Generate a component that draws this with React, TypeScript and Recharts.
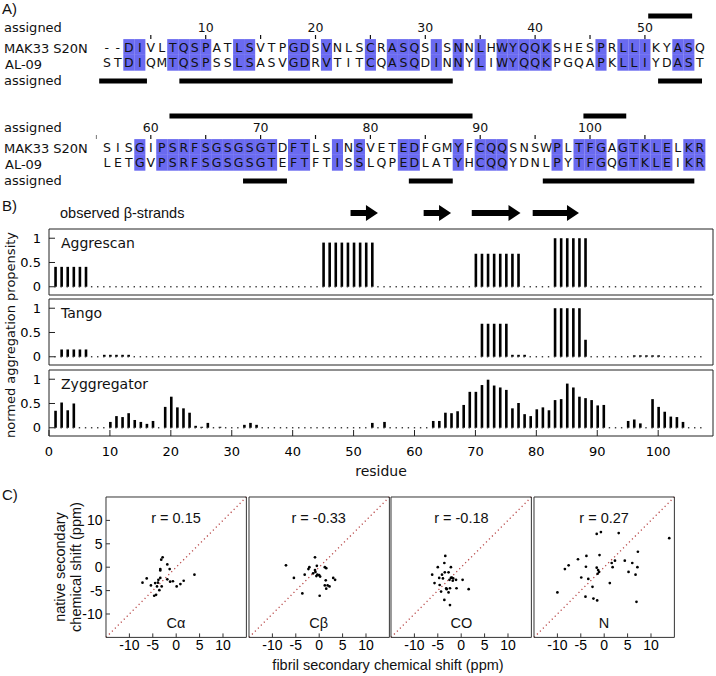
import React from "react";
import {
  ComposedChart,
  ScatterChart,
  Scatter,
  Bar,
  XAxis,
  YAxis,
  ReferenceLine,
  ReferenceArea,
} from "recharts";

const DV = "DejaVu Sans";
const LIB = "Liberation Sans, Arial, sans-serif";

// ---------- A) sequence alignment ----------
const mak33Seq =
  "--DIVLTQSPATLSVTPGDSVNLSCRASQSISNNLHWYQQKSHESPRLLIKYASQ" +
  "SISGIPSRFSGSGSGTDFTLSINSVETEDFGMYFCQQSNSWPLTFGAGTKLELKR";
const al09Seq =
  "STDIQMTQSPSSLSASVGDRVTITCQASQDINNYLIWYQQKPGQAPKLLIYDAST" +
  "LETGVPSRFSGSGSGTEFTFTISSLQPEDLATYHCQQYDNLPYTFGQGTKLEIKR";
const blockStarts = [1, 56];
const seqTicks = [5, 10, 15, 20, 25, 30, 35, 40, 45, 50, 55, 60, 65, 70, 75, 80, 85, 90, 95, 100, 105];
const seqLabels = [10, 20, 30, 40, 50, 60, 70, 80, 90, 100];
// assigned stretches (residue numbers)
const assignedMak33 = [[50.3, 54.3], [61.7, 89.3], [99.4, 103.3]];
const assignedAl09 = [[0.3, 4.65], [7.6, 32.5], [51.2, 55.2], [68.4, 72.4], [83.5, 87.5], [95.7, 109.5]];

// ---------- B) aggregation propensity, residues 1..107 ----------
const aggrescan = [
  0.41, 0.41, 0.41, 0.41, 0.41, 0.41, 0, 0, 0, 0,
  0, 0, 0, 0, 0, 0, 0, 0, 0, 0,
  0, 0, 0, 0, 0, 0, 0, 0, 0, 0,
  0, 0, 0, 0, 0, 0, 0, 0, 0, 0,
  0, 0, 0, 0, 0.91, 0.91, 0.91, 0.91, 0.91, 0.91,
  0.91, 0.91, 0.91, 0, 0, 0, 0, 0, 0, 0,
  0, 0, 0, 0, 0, 0, 0, 0, 0, 0.68,
  0.68, 0.68, 0.68, 0.68, 0.68, 0.68, 0.68, 0, 0, 0,
  0, 0, 1, 1, 1, 1, 1, 1, 0, 0,
  0, 0, 0, 0, 0, 0, 0, 0, 0, 0,
  0, 0, 0, 0, 0, 0, 0,
];
const tango = [
  0, 0.15, 0.15, 0.15, 0.15, 0.15, 0, 0, 0.04, 0.04,
  0.04, 0.04, 0.04, 0, 0, 0, 0, 0, 0, 0,
  0, 0, 0, 0, 0, 0, 0, 0, 0, 0,
  0, 0, 0, 0, 0, 0, 0, 0, 0, 0,
  0, 0, 0, 0, 0, 0, 0, 0, 0, 0,
  0, 0, 0, 0, 0, 0, 0, 0, 0, 0,
  0, 0, 0, 0, 0, 0, 0, 0, 0, 0,
  0.68, 0.68, 0.68, 0.68, 0.68, 0.04, 0.04, 0.04, 0, 0,
  0, 0, 1, 1, 1, 1, 1, 0.35, 0, 0,
  0, 0, 0, 0, 0, 0.03, 0.03, 0.03, 0.03, 0.03,
  0, 0, 0, 0, 0, 0, 0,
];
const zyggregator = [
  0.35, 0.52, 0.36, 0.5, 0, 0, 0, 0, 0, 0.12,
  0.24, 0.22, 0.3, 0.16, 0.12, 0.08, 0.14, 0, 0.43, 0.64,
  0.42, 0.4, 0.31, 0.04, 0.02, 0.1, 0, 0.02, 0, 0,
  0, 0.06, 0.1, 0.06, 0, 0, 0, 0, 0, 0,
  0, 0, 0, 0, 0, 0, 0, 0, 0, 0,
  0, 0, 0.1, 0, 0.12, 0, 0, 0, 0, 0,
  0, 0, 0.14, 0.14, 0.31, 0.3, 0.34, 0.47, 0.74, 0.74,
  0.88, 0.99, 0.87, 0.83, 0.78, 0.4, 0.51, 0.28, 0.24, 0.38,
  0.42, 0.36, 0.57, 0.59, 0.91, 0.83, 0.64, 0.61, 0.57, 0.46,
  0.47, 0, 0, 0, 0.14, 0.17, 0.09, 0, 0.59, 0.43,
  0.33, 0.23, 0.22, 0.12, 0, 0, 0,
];
const residues = aggrescan.map((_, i) => i + 1);
const residueTicks = [0, 10, 20, 30, 40, 50, 60, 70, 80, 90, 100];
const propTicks = [0, 0.5, 1];
const strands = [[49.5, 54], [61.5, 66], [69.4, 77.4], [79.4, 87]];

// ---------- C) secondary chemical shifts (fibril x, native y) ----------
const caPts = [[-7.2, -3.3], [-6.3, -2.4], [-5.4, -3.9], [-4.7, -6.1], [-4.3, -5.9], [-4.5, -3.4], [-4.1, -4.1], [-3.8, -2.7], [-3.9, -3.3], [-3.6, -4.9], [-3.4, -0.4], [-3.4, -0.7], [-3.2, 1.6], [-2.9, 2.1], [-3.1, -4.1], [-3.4, -2.3], [-1.9, 0.6], [-1.4, -0.4], [-1.9, -2.6], [-1.3, -3.1], [-0.7, -3.0], [0.1, -4.1], [0.9, -3.6], [1.6, -2.9], [3.9, -1.6]];
const cbPts = [[-7.1, 0.4], [-5.4, -2.3], [-3.6, -5.6], [-3.1, -1.6], [-2.3, -0.4], [-2.1, 0], [-1.3, -1.3], [-0.9, 2.1], [-0.9, -0.6], [-0.8, -1.0], [-0.5, 0.3], [-0.4, -1.6], [0, -1.7], [0.1, -6.1], [0.2, -2.0], [1.2, 0], [1.5, -0.2], [1.4, -2.8], [1.2, -3.9], [1.5, -4.6], [1.8, -3.9], [2.2, -4.1], [3.0, -2.3], [3.4, -2.7], [-0.6, -1.9]];
const coPts = [[-6.2, -1.6], [-5.7, -3.4], [-5.0, 0], [-4.7, -2.3], [-4.6, -3.8], [-4.3, -5.2], [-4.1, -1.6], [-3.9, -2.4], [-3.6, 0.9], [-3.5, -1.1], [-3.4, 2.4], [-3.6, -7.0], [-3.2, -4.5], [-3.1, -4.7], [-2.7, -1.1], [-2.5, -2.7], [-2.4, -4.5], [-2.7, -5.4], [-2.4, -8.1], [-2.2, 0], [-2.2, -2.3], [-2.0, -2.2], [-1.8, -2.9], [-1.7, -2.4], [-1.1, -2.7], [-1.0, -4.5], [0.3, -2.7], [1.6, -4.7]];
const nPts = [[-10.0, -5.4], [-8.4, -0.4], [-7.6, 0.4], [-5.6, 1.7], [-4.9, -2.2], [-4.0, -6.3], [-3.9, 0.1], [-3.8, 2.4], [-3.4, -2.5], [-2.5, -4.2], [-2.3, -6.7], [-1.6, 7.1], [-1.6, -0.1], [-1.5, -7.1], [-1.4, -1.4], [-1.3, -0.6], [-1.1, -1.0], [-1.0, 2.6], [-0.7, 7.5], [1.2, -3.4], [1.6, 0.9], [1.8, 0.0], [2.3, 1.4], [3.1, 7.3], [4.4, 1.4], [5.2, -1.0], [6.0, 0.9], [6.7, -1.6], [6.9, -7.4], [7.1, 0.0], [7.2, 3.3], [13.9, 6.2]];
const shiftSets = [caPts, cbPts, coPts, nPts];
const nuclei = ["Cα", "Cβ", "CO", "N"];
const rValues = ["r = 0.15", "r = -0.33", "r = -0.18", "r = 0.27"];
const shiftTicks = [-10, -5, 0, 5, 10];

// ---------- layout ----------
const LANE = { upper: 16, num: 27, tick: 37, mak: 47, al: 62.8, lower: 81 };
const B_LEFT = 49;
const B_RIGHT = 713;
const B_H = 66;
const bPanels = [
  { name: "Aggrescan", values: aggrescan, top: 229 },
  { name: "Tango", values: tango, top: 299 },
  { name: "Zyggregator", values: zyggregator, top: 370 },
];
const C_TOP = 496.7;
const C_SIZE = 140.4;
const C_LEFT = 105.8;
const C_STEP = 142.7;
const C_YAXIS = 30;

const ResidueCell = (p: any) => {
  const { cx, cy, payload } = p;
  return (
    <g>
      {payload.same && (
        <rect x={cx - 5.55} y={cy - 7.9} width={11.1} height={15.8} fill="#6a6af0" />
      )}
      <text x={cx} y={cy} textAnchor="middle" dominantBaseline="central" fontSize={12.5} fontFamily={DV} fill="#111">
        {payload.ch}
      </text>
    </g>
  );
};

const TickMark = (p: any) => (
  <line x1={p.cx} x2={p.cx} y1={p.cy - 2} y2={p.cy + 2} stroke="#111" strokeWidth={1.2} />
);

const TickNum = (p: any) => (
  <text x={p.cx} y={p.cy} textAnchor="middle" dominantBaseline="central" fontSize={12.5} fontFamily={DV} fill="#111">
    {p.payload.i}
  </text>
);

function AlignmentBlock({ start }: { start: number }) {
  const idx = Array.from({ length: 55 }, (_, k) => start + k);
  const row = (seq: string, lane: number) =>
    idx.map((i) => ({
      i,
      y: lane,
      ch: seq[i - 1],
      same: seq[i - 1] !== "-" && mak33Seq[i - 1] === al09Seq[i - 1],
    }));
  const inBlock = (v: number) => v >= start - 1 && v < start + 54;
  const ticks = seqTicks.filter(inBlock).map((i) => ({ i, y: LANE.tick }));
  const nums = seqLabels.filter(inBlock).map((i) => ({ i, y: LANE.num }));
  const top = assignedMak33.filter(([a]) => inBlock(a));
  const bottom = assignedAl09.filter(([a]) => inBlock(a));
  return (
    <ScatterChart width={716} height={100} margin={{ top: 0, right: 5.2, bottom: 0, left: 95.9 }}>
      <XAxis type="number" dataKey="i" domain={[start - 1, start + 55]} hide allowDataOverflow />
      <YAxis type="number" dataKey="y" domain={[0, 100]} reversed hide allowDataOverflow />
      <Scatter data={row(mak33Seq, LANE.mak)} shape={<ResidueCell />} isAnimationActive={false} />
      <Scatter data={row(al09Seq, LANE.al)} shape={<ResidueCell />} isAnimationActive={false} />
      <Scatter data={ticks} shape={<TickMark />} isAnimationActive={false} />
      <Scatter data={nums} shape={<TickNum />} isAnimationActive={false} />
      {top.map(([a, b], k) => (
        <ReferenceLine key={"u" + k} segment={[{ x: a, y: LANE.upper }, { x: b, y: LANE.upper }]} stroke="#000" strokeWidth={5} />
      ))}
      {bottom.map(([a, b], k) => (
        <ReferenceLine key={"l" + k} segment={[{ x: a, y: LANE.lower }, { x: b, y: LANE.lower }]} stroke="#000" strokeWidth={5} />
      ))}
    </ScatterChart>
  );
}

const Stick = (p: any) => {
  const { x, y, width, height } = p;
  if (!height || Math.abs(height) < 0.8) return null;
  const cx = x + width / 2;
  return <rect x={cx - 1.3} y={y} width={2.6} height={height} fill="#000" />;
};

const BaseDot = (p: any) => (
  <rect x={p.cx - 0.7} y={p.cy - 0.7} width={1.4} height={1.4} fill="#333" />
);

const Arrow = (p: any) => {
  const { x, y, width, height } = p;
  const cy = y + height / 2;
  const hh = height / 2;
  const sh = 3;
  const xe = x + width;
  const xh = xe - 12;
  return (
    <polygon
      points={`${x},${cy - sh} ${xh},${cy - sh} ${xh},${cy - hh} ${xe},${cy} ${xh},${cy + hh} ${xh},${cy + sh} ${x},${cy + sh}`}
      fill="#000"
    />
  );
};

const Nothing = () => null;

function StrandArrows() {
  const data = strands.map(([a, b]) => ({ a, b, mid: 0.5 }));
  return (
    <ComposedChart width={716} height={30} data={data} margin={{ top: 0, right: 716 - B_RIGHT, bottom: 0, left: B_LEFT }}>
      <XAxis type="number" dataKey="a" domain={[0, 109]} hide allowDataOverflow />
      <YAxis type="number" domain={[0, 1]} hide allowDataOverflow />
      <Scatter dataKey="mid" shape={<Nothing />} isAnimationActive={false} />
      {strands.map(([a, b], k) => (
        <ReferenceArea key={k} x1={a} x2={b} y1={0.23} y2={0.77} shape={<Arrow />} />
      ))}
    </ComposedChart>
  );
}

function PropensityPanel({ values, showTicks }: { values: number[]; showTicks: boolean }) {
  const data = residues.map((res, i) => ({ res, v: values[i], base: 0 }));
  const hb = showTicks ? 30 : 1;
  const tickStyle = { fill: "#000", fontSize: 13, fontFamily: DV };
  return (
    <ComposedChart
      width={716}
      height={1 + B_H + hb}
      data={data}
      margin={{ top: 0, right: 716 - B_RIGHT - 1, bottom: 0, left: 0 }}
    >
      <XAxis
        dataKey="res"
        type="number"
        domain={[0, 109]}
        ticks={residueTicks}
        interval={0}
        tickSize={-6}
        tickMargin={17}
        height={hb}
        stroke="#222"
        tick={showTicks ? tickStyle : false}
        allowDataOverflow
      />
      <XAxis
        xAxisId="t"
        orientation="top"
        dataKey="res"
        type="number"
        domain={[0, 109]}
        ticks={residueTicks}
        interval={0}
        tickSize={-6}
        height={1}
        stroke="#222"
        tick={false}
        allowDataOverflow
      />
      <YAxis
        type="number"
        domain={[-0.17, 1.19]}
        ticks={propTicks}
        interval={0}
        tickSize={-6}
        tickMargin={14}
        width={B_LEFT}
        stroke="#222"
        tick={tickStyle}
        allowDataOverflow
      />
      <YAxis
        yAxisId="r"
        orientation="right"
        type="number"
        domain={[-0.17, 1.19]}
        ticks={propTicks}
        interval={0}
        tickSize={-6}
        width={1}
        stroke="#222"
        tick={false}
        allowDataOverflow
      />
      <Scatter dataKey="base" shape={<BaseDot />} isAnimationActive={false} />
      <Bar dataKey="v" barSize={3} shape={<Stick />} isAnimationActive={false} />
    </ComposedChart>
  );
}

const PointDot = (p: any) => <circle cx={p.cx} cy={p.cy} r={1.35} fill="#000" />;

function ShiftPanel({ pts, showY }: { pts: number[][]; showY: boolean }) {
  const data = pts.map(([x, y]) => ({ x, y }));
  const tickStyle = { fill: "#000", fontSize: 14, fontFamily: LIB };
  return (
    <ScatterChart
      width={C_YAXIS + C_SIZE + 1}
      height={1 + C_SIZE + 26}
      margin={{ top: 0, right: 0, bottom: 0, left: 0 }}
    >
      <XAxis type="number" dataKey="x" domain={[-15, 15]} ticks={shiftTicks} interval={0} tickSize={-4} tickMargin={6.5} height={26} stroke="#333" tick={tickStyle} allowDataOverflow />
      <XAxis xAxisId="t" orientation="top" type="number" dataKey="x" domain={[-15, 15]} ticks={shiftTicks} interval={0} tickSize={-4} height={1} stroke="#333" tick={false} allowDataOverflow />
      <YAxis type="number" dataKey="y" domain={[-15, 15]} ticks={shiftTicks} interval={0} tickSize={-4} tickMargin={7.5} width={C_YAXIS} stroke="#333" tick={showY ? tickStyle : false} allowDataOverflow />
      <YAxis yAxisId="r" orientation="right" type="number" dataKey="y" domain={[-15, 15]} ticks={shiftTicks} interval={0} tickSize={-4} width={1} stroke="#333" tick={false} allowDataOverflow />
      <ReferenceLine segment={[{ x: -15, y: -15 }, { x: 15, y: 15 }]} stroke="#b84848" strokeWidth={1.3} strokeDasharray="1.2 3" />
      <Scatter data={data} shape={<PointDot />} isAnimationActive={false} />
    </ScatterChart>
  );
}

export default function App() {
  return (
    <div style={{ position: "absolute", left: 0, top: 0, width: 716, height: 676, background: "#fff", fontFamily: DV }}>
      {blockStarts.map((s, k) => (
        <div key={s} style={{ position: "absolute", left: 0, top: k * 100 }}>
          <AlignmentBlock start={s} />
        </div>
      ))}

      <div style={{ position: "absolute", left: 0, top: 198 }}>
        <StrandArrows />
      </div>

      {bPanels.map((p, k) => (
        <div key={p.name} style={{ position: "absolute", left: 0, top: p.top - 1 }}>
          <PropensityPanel values={p.values} showTicks={k === bPanels.length - 1} />
        </div>
      ))}

      {shiftSets.map((pts, k) => (
        <div key={k} style={{ position: "absolute", left: C_LEFT + k * C_STEP - C_YAXIS, top: C_TOP - 1 }}>
          <ShiftPanel pts={pts} showY={k === 0} />
        </div>
      ))}

      <svg width={716} height={676} style={{ position: "absolute", left: 0, top: 0, pointerEvents: "none" }}>
        <g fontFamily={LIB} fontSize={15} fill="#111">
          <text x={2} y={14}>A)</text>
          <text x={2} y={211}>B)</text>
          <text x={2} y={500}>C)</text>
        </g>
        <g fontFamily={DV} fontSize={13} fill="#111">
          {blockStarts.map((s, k) => (
            <g key={s} transform={`translate(0, ${k * 100})`}>
              <text x={4} y={32}>assigned</text>
              <text x={4} y={52.5}>MAK33 S20N</text>
              <text x={5} y={68.5}>AL-09</text>
              <text x={4} y={85}>assigned</text>
            </g>
          ))}
        </g>
        <text x={60} y={218} fontFamily={LIB} fontSize={14.5} fill="#111">observed β-strands</text>
        <g fontFamily={DV} fontSize={14} fill="#111">
          {bPanels.map((p) => (
            <text key={p.name} x={61} y={p.top + 19}>{p.name}</text>
          ))}
          <text x={(B_LEFT + B_RIGHT) / 2} y={476} textAnchor="middle">residue</text>
        </g>
        <text x={15} y={335} transform="rotate(-90, 15, 335)" textAnchor="middle" fontFamily={DV} fontSize={13} fill="#111">
          normed aggregation propensity
        </text>
        <g fontFamily={LIB} fontSize={14.5} fill="#111" textAnchor="middle">
          {rValues.map((r, k) => (
            <text key={r} x={C_LEFT + k * C_STEP + C_SIZE / 2} y={522.5}>{r}</text>
          ))}
          {nuclei.map((n, k) => (
            <text key={n} x={C_LEFT + k * C_STEP + C_SIZE / 2} y={628}>{n}</text>
          ))}
          <text x={388} y={670}>fibril secondary chemical shift (ppm)</text>
          <text x={65} y={567} transform="rotate(-90, 65, 567)">native secondary</text>
          <text x={81} y={567} transform="rotate(-90, 81, 567)">chemical shift (ppm)</text>
        </g>
      </svg>
    </div>
  );
}
